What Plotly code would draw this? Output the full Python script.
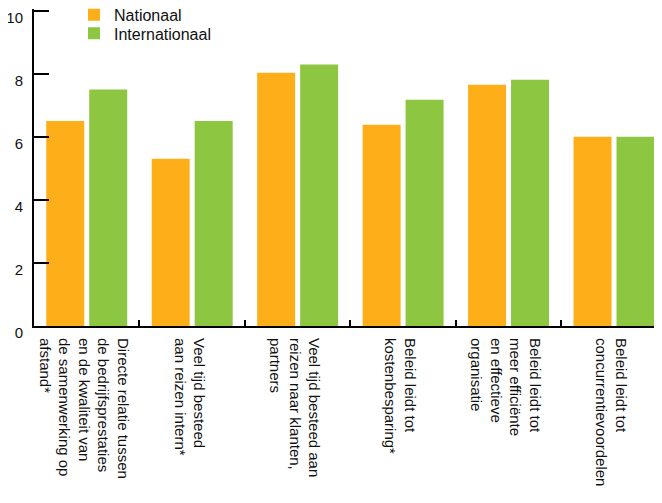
import plotly.graph_objects as go

categories = [
    "Directe relatie tussen<br>de bedrijfsprestaties<br>en de kwaliteit van<br>de samenwerking op<br>afstand*",
    "Veel tijd besteed<br>aan reizen intern*",
    "Veel tijd besteed aan<br>reizen naar klanten,<br>partners",
    "Beleid leidt tot<br>kostenbesparing*",
    "Beleid leidt tot<br>meer efficiënte<br>en effectieve<br>organisatie",
    "Beleid leidt tot<br>concurrentievoordelen",
]
nationaal = [6.5, 5.3, 8.03, 6.38, 7.65, 6.0]
internationaal = [7.5, 6.5, 8.29, 7.17, 7.81, 6.0]
y_ticks = [0, 2, 4, 6, 8, 10]

FONT = "Liberation Sans, Arial, Helvetica, sans-serif"
ORANGE = "#FDAE19"
GREEN = "#8DC641"

fig = go.Figure()
fig.add_trace(go.Bar(name="Nationaal", x=categories, y=nationaal, legend="legend",
                     marker=dict(color=ORANGE, line=dict(width=0))))
fig.add_trace(go.Bar(name="Internationaal", x=categories, y=internationaal, legend="legend2",
                     marker=dict(color=GREEN, line=dict(width=0))))

legend_style = dict(xanchor="left", yanchor="top", bgcolor="rgba(0,0,0,0)", borderwidth=0,
                    font=dict(size=16, family=FONT, color="#111111"), itemwidth=30)

# page body has an 8px margin, so the figure is 8px smaller than the window
fig.update_layout(
    width=654, height=495,
    margin=dict(l=26, r=0, t=1.4, b=177, pad=0, autoexpand=False),
    paper_bgcolor="white", plot_bgcolor="white",
    barmode="group", bargap=0.185, bargroupgap=0.116,
    font=dict(family=FONT, size=15, color="#111111"),
    showlegend=True,
    legend=dict(x=(66 - 26) / 628, y=1.0352, **legend_style),
    legend2=dict(x=(66 - 26) / 628, y=0.9767, **legend_style),
)
fig.update_xaxes(
    type="category", range=[-0.5, 5.455], automargin=False,
    showline=True, linecolor="black", linewidth=2,
    ticks="inside", ticklen=6, tickwidth=2, tickcolor="black",
    tickson="boundaries", tickangle=90,
    showgrid=False, zeroline=False,
    ticklabelstandoff=7, ticklabelshift=-3, ticklabeloverflow="allow",
    tickfont=dict(size=15, family=FONT, color="#111111"),
)
fig.update_yaxes(
    range=[0, 10.05], tickvals=y_ticks, ticktext=[str(v) for v in y_ticks],
    automargin=False,
    showline=True, linecolor="black", linewidth=2,
    ticks="inside", ticklen=15, tickwidth=2, tickcolor="black",
    showgrid=False, zeroline=False,
    ticklabelstandoff=6, ticklabelshift=7, ticklabeloverflow="allow",
    tickfont=dict(size=15, family=FONT, color="#111111"),
)

fig.write_html("out.html")
